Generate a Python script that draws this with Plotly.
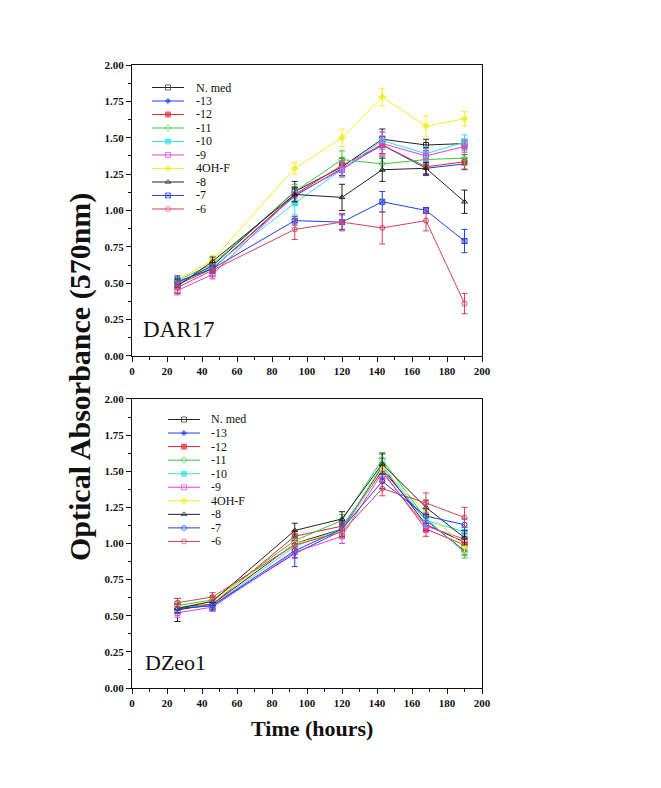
import plotly.graph_objects as go

# ---------------- data ----------------
hours = [26, 46, 93, 120, 143, 168, 190]
series_names = ["N. med", "-13", "-12", "-11", "-10", "-9", "4OH-F", "-8", "-7", "-6"]

dar17_values = {
    "N. med": [0.50, 0.62, 1.13, 1.30, 1.49, 1.45, 1.46],
    "-13":    [0.51, 0.60, 1.10, 1.29, 1.45, 1.29, 1.32],
    "-12":    [0.49, 0.60, 1.11, 1.31, 1.45, 1.30, 1.335],
    "-11":    [0.52, 0.63, 1.13, 1.35, 1.32, 1.35, 1.36],
    "-10":    [0.50, 0.61, 1.05, 1.28, 1.48, 1.39, 1.47],
    "-9":     [0.45, 0.56, 1.11, 1.28, 1.46, 1.375, 1.44],
    "4OH-F":  [0.52, 0.66, 1.29, 1.50, 1.78, 1.58, 1.63],
    "-8":     [0.48, 0.65, 1.11, 1.09, 1.28, 1.29, 1.06],
    "-7":     [0.51, 0.60, 0.93, 0.92, 1.06, 1.00, 0.79],
    "-6":     [0.47, 0.59, 0.87, 0.92, 0.88, 0.93, 0.36],
}
dar17_errors = {
    "N. med": [0.03, 0.03, 0.07, 0.06, 0.07, 0.04, 0.03],
    "-13":    [0.03, 0.03, 0.05, 0.05, 0.06, 0.05, 0.04],
    "-12":    [0.03, 0.03, 0.05, 0.05, 0.06, 0.05, 0.05],
    "-11":    [0.03, 0.03, 0.05, 0.06, 0.05, 0.05, 0.05],
    "-10":    [0.03, 0.03, 0.08, 0.05, 0.06, 0.05, 0.05],
    "-9":     [0.03, 0.03, 0.05, 0.05, 0.08, 0.05, 0.04],
    "4OH-F":  [0.03, 0.03, 0.04, 0.06, 0.06, 0.07, 0.05],
    "-8":     [0.05, 0.03, 0.05, 0.09, 0.08, 0.04, 0.08],
    "-7":     [0.04, 0.03, 0.03, 0.05, 0.07, 0.02, 0.08],
    "-6":     [0.04, 0.04, 0.07, 0.06, 0.11, 0.07, 0.07],
}

dzeo1_values = {
    "N. med": [0.54, 0.58, 1.00, 1.10, 1.53, 1.13, 1.01],
    "-13":    [0.55, 0.57, 0.93, 1.09, 1.51, 1.16, 0.95],
    "-12":    [0.56, 0.58, 1.05, 1.12, 1.50, 1.10, 0.99],
    "-11":    [0.57, 0.61, 1.02, 1.16, 1.58, 1.17, 0.94],
    "-10":    [0.56, 0.57, 0.98, 1.10, 1.54, 1.16, 1.08],
    "-9":     [0.52, 0.56, 0.94, 1.05, 1.49, 1.12, 1.03],
    "4OH-F":  [0.56, 0.60, 1.00, 1.08, 1.52, 1.22, 0.98],
    "-8":     [0.55, 0.60, 1.09, 1.17, 1.55, 1.25, 1.04],
    "-7":     [0.55, 0.57, 0.95, 1.10, 1.43, 1.19, 1.13],
    "-6":     [0.59, 0.63, 0.99, 1.08, 1.38, 1.28, 1.18],
}
dzeo1_errors = {
    "N. med": [0.08, 0.03, 0.04, 0.05, 0.06, 0.05, 0.04],
    "-13":    [0.03, 0.03, 0.09, 0.05, 0.05, 0.04, 0.03],
    "-12":    [0.03, 0.03, 0.04, 0.04, 0.05, 0.05, 0.04],
    "-11":    [0.03, 0.03, 0.04, 0.04, 0.05, 0.05, 0.04],
    "-10":    [0.03, 0.03, 0.05, 0.05, 0.05, 0.05, 0.04],
    "-9":     [0.03, 0.03, 0.04, 0.05, 0.05, 0.04, 0.04],
    "4OH-F":  [0.03, 0.03, 0.04, 0.04, 0.05, 0.05, 0.04],
    "-8":     [0.03, 0.03, 0.05, 0.05, 0.07, 0.05, 0.05],
    "-7":     [0.03, 0.03, 0.05, 0.05, 0.05, 0.05, 0.04],
    "-6":     [0.03, 0.03, 0.05, 0.04, 0.05, 0.07, 0.07],
}

x_tick_vals = [0, 20, 40, 60, 80, 100, 120, 140, 160, 180, 200]
y_tick_vals = [0.0, 0.25, 0.5, 0.75, 1.0, 1.25, 1.5, 1.75, 2.0]

# ---------------- styles ----------------
colors = {
    "N. med": "#222222", "-13": "#1e3cf0", "-12": "#e02a3a", "-11": "#3cc83c",
    "-10": "#30e0e0", "-9": "#e040e0", "4OH-F": "#f2ee2a", "-8": "#222222",
    "-7": "#2040e8", "-6": "#d8405a",
}
symbols_top = {
    "N. med": "square-open", "-13": "diamond", "-12": "square", "-11": "diamond-open",
    "-10": "square", "-9": "square-open", "4OH-F": "diamond", "-8": "triangle-up-open",
    "-7": "square-x-open", "-6": "circle-open",
}
symbols_bottom = dict(symbols_top)
symbols_bottom["-7"] = "circle-open"
sizes = {
    "N. med": 5, "-13": 4, "-12": 5, "-11": 5, "-10": 5, "-9": 5,
    "4OH-F": 5, "-8": 5, "-7": 5, "-6": 5,
}

SERIF = "Liberation Serif, Times New Roman, serif"

fig = go.Figure()

def add_panel(values, errors, symbols, xa, ya):
    for name in series_names:
        fig.add_trace(go.Scatter(
            x=hours, y=values[name], mode="lines+markers", name=name,
            xaxis=xa, yaxis=ya, showlegend=False,
            line=dict(color=colors[name], width=1),
            marker=dict(symbol=symbols[name], size=sizes[name], color=colors[name],
                        line=dict(color=colors[name], width=1)),
            error_y=dict(type="data", array=errors[name], visible=True,
                         color=colors[name], thickness=1, width=3),
        ))

add_panel(dar17_values, dar17_errors, symbols_top, "x", "y")
add_panel(dzeo1_values, dzeo1_errors, symbols_bottom, "x2", "y2")

# ---------------- in-plot legends (overlay axes in pixel units) ----------------
def add_legend(symbols, xa, ya, y0, dy, x_line0, x_line1, x_text):
    for i, name in enumerate(series_names):
        yy = y0 + i * dy
        fig.add_trace(go.Scatter(
            x=[x_line0, (x_line0 + x_line1) / 2, x_line1], y=[yy, yy, yy],
            mode="lines+markers", xaxis=xa, yaxis=ya, showlegend=False,
            hoverinfo="skip",
            line=dict(color=colors[name], width=1),
            marker=dict(symbol=symbols[name], size=[0, sizes[name], 0], color=colors[name],
                        line=dict(color=colors[name], width=1)),
        ))
        fig.add_annotation(x=x_text, y=yy, xref=xa, yref=ya, text=name,
                           showarrow=False, xanchor="left", yanchor="middle",
                           font=dict(family=SERIF, size=12, color="#111"))

add_legend(symbols_top, "x3", "y3", 22.5, 13.5, 20, 52, 62)
add_legend(symbols_bottom, "x4", "y4", 20.5, 13.55, 36, 68, 77)

# ---------------- axes ----------------
tickfont = dict(family=SERIF, size=11, color="#111", weight="bold")
common_x = dict(range=[0, 200], tickvals=x_tick_vals, ticks="outside", ticklen=5,
                tickwidth=1, tickcolor="#111", showline=True, linecolor="#111",
                linewidth=1, mirror=True, showgrid=False, zeroline=False,
                tickfont=tickfont,
                minor=dict(dtick=10, ticks="outside", ticklen=3, tickcolor="#111",
                           showgrid=False))
common_y = dict(range=[0, 2], tickvals=y_tick_vals, tickformat=".2f", ticks="outside",
                ticklen=5, tickwidth=1, tickcolor="#111", showline=True,
                linecolor="#111", linewidth=1, mirror=True, showgrid=False,
                zeroline=False, tickfont=tickfont,
                minor=dict(dtick=0.125, ticks="outside", ticklen=3, tickcolor="#111",
                           showgrid=False))

top_dom = [0.533, 1.0]
bot_dom = [0.0, 0.4639]

# page body has an 8px margin; compensate so the plot lands where the reference has it
OFF = 8
W, H = 661, 788
L, R, T, B = 132 - OFF, 179 + OFF, 65 - OFF, 100 + OFF

fig.update_layout(
    xaxis=dict(domain=[0, 1], anchor="y", **common_x),
    yaxis=dict(domain=top_dom, anchor="x", **common_y),
    xaxis2=dict(domain=[0, 1], anchor="y2", **common_x),
    yaxis2=dict(domain=bot_dom, anchor="x2", **common_y),
    xaxis3=dict(overlaying="x", anchor="y3", range=[0, 350], visible=False, fixedrange=True),
    yaxis3=dict(overlaying="y", anchor="x3", range=[291, 0], visible=False, fixedrange=True),
    xaxis4=dict(overlaying="x2", anchor="y4", range=[0, 350], visible=False, fixedrange=True),
    yaxis4=dict(overlaying="y2", anchor="x4", range=[289, 0], visible=False, fixedrange=True),
    width=W, height=H,
    margin=dict(l=L, r=R, t=T, b=B),
    paper_bgcolor="white", plot_bgcolor="white",
    showlegend=False,
)

# panel labels
fig.add_annotation(x=0.027, y=0.09, xref="x domain", yref="y domain", text="DAR17",
                   showarrow=False, xanchor="left", yanchor="middle",
                   font=dict(family=SERIF, size=23, color="#111"))
fig.add_annotation(x=0.03, y=0.087, xref="x2 domain", yref="y2 domain", text="DZeo1",
                   showarrow=False, xanchor="left", yanchor="middle",
                   font=dict(family=SERIF, size=22, color="#111"))

# axis titles (positions given in screen pixels, converted to paper coords)
pw, ph = W - L - R, H - T - B
def px_to_paper(px, py):
    return (px - OFF - L) / pw, 1 - (py - OFF - T) / ph

tx, ty = px_to_paper(80, 377)
fig.add_annotation(x=tx, y=ty, xref="paper", yref="paper", text="Optical Absorbance (570nm)",
                   showarrow=False, textangle=-90, xanchor="center", yanchor="middle",
                   font=dict(family=SERIF, size=30, color="#111", weight="bold"))
tx, ty = px_to_paper(312, 728)
fig.add_annotation(x=tx, y=ty, xref="paper", yref="paper", text="Time (hours)",
                   showarrow=False, xanchor="center", yanchor="middle",
                   font=dict(family=SERIF, size=22, color="#111", weight="bold"))

fig.write_html("out.html")
